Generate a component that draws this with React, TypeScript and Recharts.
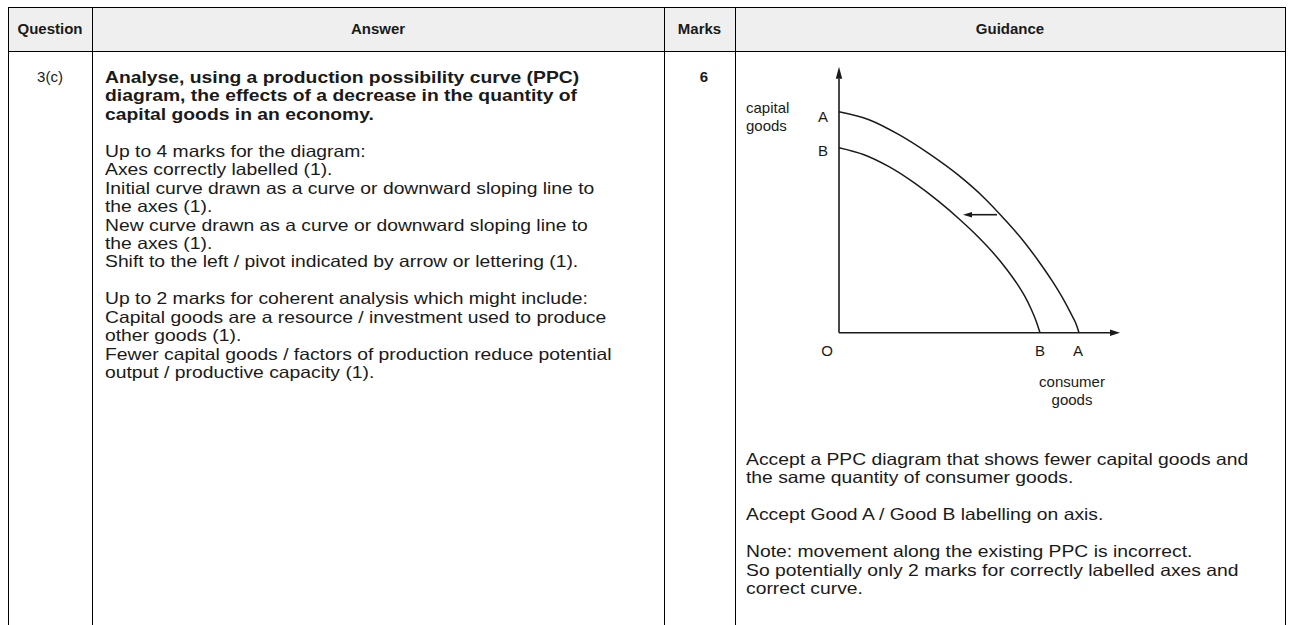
import React from 'react';
import { LineChart, Line, XAxis, YAxis, ReferenceLine, ReferenceDot } from 'recharts';

// PPC curves (consumer goods on x, capital goods on y)
const curveA = [
  { x: 0, y: 221 }, { x: 30, y: 213 }, { x: 60, y: 198 }, { x: 90, y: 179 },
  { x: 120, y: 157 }, { x: 145, y: 135 }, { x: 165, y: 114 }, { x: 185, y: 91 },
  { x: 200, y: 71 }, { x: 213, y: 52 }, { x: 224, y: 34 }, { x: 232, y: 19 },
  { x: 237, y: 9 }, { x: 240, y: 0 },
];
const curveB = [
  { x: 0, y: 185 }, { x: 25, y: 178 }, { x: 50, y: 166 }, { x: 75, y: 150 },
  { x: 100, y: 131 }, { x: 121, y: 113 }, { x: 138, y: 97 }, { x: 155, y: 79 },
  { x: 168, y: 63 }, { x: 178, y: 49 }, { x: 186, y: 36 }, { x: 192, y: 24 },
  { x: 197, y: 12 }, { x: 201, y: 0 },
];
const shiftArrow = [{ x: 158, y: 118 }, { x: 124, y: 118 }];
const axisMax = { x: 281, y: 266 };
const yAxisTitle = ['capital', 'goods'];
const xAxisTitle = ['consumer', 'goods'];
const curveNames = ['A', 'B'];

const headers = ['Question', 'Answer', 'Marks', 'Guidance'];
const questionId = '3(c)';
const marks = '6';
const answerBold = [
  'Analyse, using a production possibility curve (PPC)',
  'diagram, the effects of a decrease in the quantity of',
  'capital goods in an economy.',
];
const answerLines = [
  '',
  'Up to 4 marks for the diagram:',
  'Axes correctly labelled (1).',
  'Initial curve drawn as a curve or downward sloping line to',
  'the axes (1).',
  'New curve drawn as a curve or downward sloping line to',
  'the axes (1).',
  'Shift to the left / pivot indicated by arrow or lettering (1).',
  '',
  'Up to 2 marks for coherent analysis which might include:',
  'Capital goods are a resource / investment used to produce',
  'other goods (1).',
  'Fewer capital goods / factors of production reduce potential',
  'output / productive capacity (1).',
];
const guidanceLines = [
  'Accept a PPC diagram that shows fewer capital goods and',
  'the same quantity of consumer goods.',
  '',
  'Accept Good A / Good B labelling on axis.',
  '',
  'Note: movement along the existing PPC is incorrect.',
  'So potentially only 2 marks for correctly labelled axes and',
  'correct curve.',
];

const FONT = '"Liberation Sans", Arial, sans-serif';
const INK = '#1a1a1a';
const LH = 18.45;
const BODY = 16.5;
const STRETCH = 'scaleX(1.17)';

// table grid
const colX = [8, 92, 664, 735, 1285];
const topY = 7;
const headY = 51;

const arrowLine = (head: number, half: number) => (p: any) => {
  const { x1, y1, x2, y2 } = p;
  const len = Math.hypot(x2 - x1, y2 - y1) || 1;
  const ux = (x2 - x1) / len;
  const uy = (y2 - y1) / len;
  const bx = x2 - ux * head;
  const by = y2 - uy * head;
  return (
    <g>
      <line x1={x1} y1={y1} x2={bx} y2={by} stroke={INK} strokeWidth={1.6} />
      <polygon
        points={`${x2},${y2} ${bx - uy * half},${by + ux * half} ${bx + uy * half},${by - ux * half}`}
        fill={INK}
      />
    </g>
  );
};

const tag = (lines: string[], dx: number, dy: number, anchor: 'start' | 'middle' | 'end') => (p: any) => {
  const vb = p.viewBox || {};
  return (
    <text x={vb.x + dx} y={vb.y + dy} textAnchor={anchor} fontFamily={FONT} fontSize={15} fill={INK}>
      {lines.map((l, i) => (
        <tspan key={i} x={vb.x + dx} dy={i === 0 ? 0 : 18.5}>{l}</tspan>
      ))}
    </text>
  );
};

const PPC = () => (
  <LineChart
    width={400}
    height={370}
    margin={{ top: 16.7, right: 15, bottom: 87.3, left: 104 }}
  >
    <XAxis type="number" dataKey="x" domain={[0, axisMax.x]} hide />
    <YAxis type="number" dataKey="y" domain={[0, axisMax.y]} hide />
    <ReferenceLine segment={[{ x: 0, y: 0 }, { x: 0, y: axisMax.y }]} shape={arrowLine(12, 3.2)} ifOverflow="visible" />
    <ReferenceLine segment={[{ x: 0, y: 0 }, { x: axisMax.x, y: 0 }]} shape={arrowLine(10, 3.2)} ifOverflow="visible" />
    <ReferenceLine segment={shiftArrow} shape={arrowLine(9, 2.8)} ifOverflow="visible" />
    <Line data={curveA} dataKey="y" type="monotone" dot={false} stroke={INK} strokeWidth={1.5} isAnimationActive={false} />
    <Line data={curveB} dataKey="y" type="monotone" dot={false} stroke={INK} strokeWidth={1.5} isAnimationActive={false} />
    <ReferenceDot x={0} y={curveA[0].y} r={0} stroke="none" ifOverflow="visible" label={{ content: tag([curveNames[0]], -16, 10, 'middle') }} />
    <ReferenceDot x={0} y={curveB[0].y} r={0} stroke="none" ifOverflow="visible" label={{ content: tag([curveNames[1]], -16, 8, 'middle') }} />
    <ReferenceDot x={curveA[curveA.length - 1].x} y={0} r={0} stroke="none" ifOverflow="visible" label={{ content: tag([curveNames[0]], -1, 23, 'middle') }} />
    <ReferenceDot x={curveB[curveB.length - 1].x} y={0} r={0} stroke="none" ifOverflow="visible" label={{ content: tag([curveNames[1]], 0, 23, 'middle') }} />
    <ReferenceDot x={0} y={0} r={0} stroke="none" ifOverflow="visible" label={{ content: tag(['O'], -12, 23, 'middle') }} />
    <ReferenceDot x={0} y={curveA[0].y} r={0} stroke="none" ifOverflow="visible" label={{ content: tag(yAxisTitle, -93, 1, 'start') }} />
    <ReferenceDot x={curveA[curveA.length - 1].x} y={0} r={0} stroke="none" ifOverflow="visible" label={{ content: tag(xAxisTitle, -7, 54, 'middle') }} />
  </LineChart>
);

const hLine = (y: number) => (
  <div style={{ position: 'absolute', left: colX[0], top: y, width: colX[4] - colX[0] + 1, height: 1, background: '#000' }} />
);

export default function App() {
  return (
    <div style={{ position: 'absolute', left: 0, top: 0, width: 1293, height: 625, overflow: 'hidden', background: '#fff', fontFamily: FONT, color: INK }}>
      <div style={{ position: 'absolute', left: colX[0], top: topY, width: colX[4] - colX[0], height: headY - topY, background: '#efefef' }} />
      {hLine(topY)}
      {hLine(headY)}
      {colX.map((x, i) => (
        <div key={i} style={{ position: 'absolute', left: x, top: topY, width: 1, height: 625 - topY, background: '#000' }} />
      ))}
      {headers.map((h, i) => (
        <div key={h} style={{ position: 'absolute', left: colX[i], top: 20, width: colX[i + 1] - colX[i], textAlign: 'center', fontWeight: 'bold', fontSize: 15, lineHeight: '18px' }}>
          {h}
        </div>
      ))}
      <div style={{ position: 'absolute', left: colX[0], top: 68, width: colX[1] - colX[0], textAlign: 'center', fontSize: 15, lineHeight: `${LH}px` }}>
        {questionId}
      </div>
      <div style={{ position: 'absolute', left: 105, top: 68, fontSize: BODY, lineHeight: `${LH}px`, whiteSpace: 'pre', transform: STRETCH, transformOrigin: '0 0' }}>
        {answerBold.map((l, i) => (
          <div key={'b' + i} style={{ fontWeight: 'bold', height: LH }}>{l}</div>
        ))}
        {answerLines.map((l, i) => (
          <div key={'a' + i} style={{ height: LH }}>{l}</div>
        ))}
      </div>
      <div style={{ position: 'absolute', left: colX[2], top: 68, width: colX[3] - colX[2] - 27, textAlign: 'right', fontWeight: 'bold', fontSize: 15, lineHeight: `${LH}px` }}>
        {marks}
      </div>
      <div style={{ position: 'absolute', left: 735, top: 50 }}>
        <PPC />
      </div>
      <div style={{ position: 'absolute', left: 746, top: 450, fontSize: BODY, lineHeight: `${LH}px`, whiteSpace: 'pre', transform: STRETCH, transformOrigin: '0 0' }}>
        {guidanceLines.map((l, i) => (
          <div key={'g' + i} style={{ height: LH }}>{l}</div>
        ))}
      </div>
    </div>
  );
}
